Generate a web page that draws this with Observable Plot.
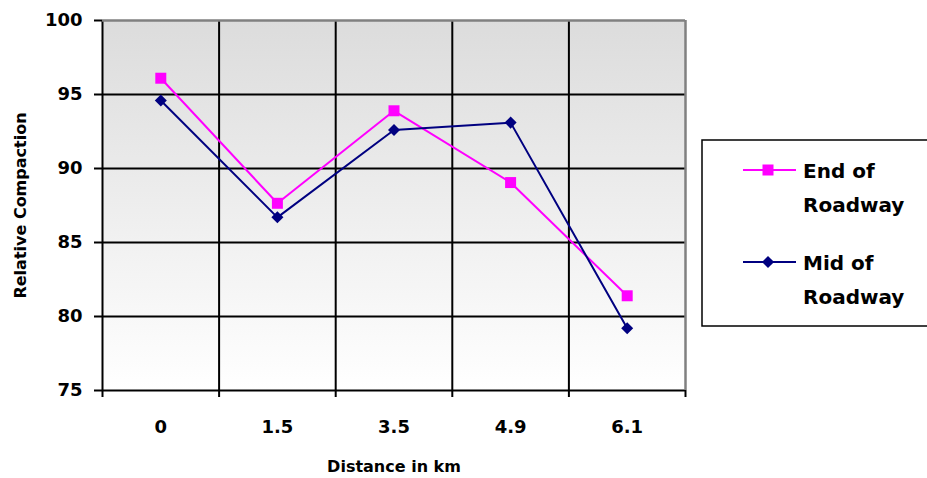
<!DOCTYPE html>
<html>
<head>
<meta charset="utf-8">
<script src="https://cdn.jsdelivr.net/npm/d3@7"></script>
<script src="https://cdn.jsdelivr.net/npm/@observablehq/plot@0.6"></script>
<style>
  html, body { margin: 0; padding: 0; background: white; overflow: hidden; }
  #wrap { position: relative; width: 927px; height: 478px; }
  #legend { position: absolute; left: 0; top: 0; }
</style>
</head>
<body>
<div id="wrap"></div>
<script>
const categories = ["0", "1.5", "3.5", "4.9", "6.1"];
const endOfRoadway = [96.1, 87.65, 93.9, 89.05, 81.4];
const midOfRoadway = [94.6, 86.7, 92.6, 93.1, 79.2];
const yTicks = [75, 80, 85, 90, 95, 100];
const seriesNames = ["End of Roadway", "Mid of Roadway"];
const seriesColors = ["#FF00FF", "#000080"];
const xTitle = "Distance in km";
const yTitle = "Relative Compaction";

const FONT = "DejaVu Sans";
const idx = categories.map((c, i) => i);
const boundaries = categories.map((c, i) => i - 0.5).concat([categories.length - 0.5]);
const endData = categories.map((c, i) => ({i, value: endOfRoadway[i], series: seriesNames[0]}));
const midData = categories.map((c, i) => ({i, value: midOfRoadway[i], series: seriesNames[1]}));

const chart = Plot.plot({
  width: 927,
  height: 478,
  marginLeft: 102,
  marginRight: 242,
  marginTop: 20,
  marginBottom: 88,
  style: {fontFamily: FONT, fontSize: "18px", fontWeight: "bold", color: "black", background: "transparent"},
  x: {domain: [-0.5, categories.length - 0.5], axis: null},
  y: {domain: [75, 100], axis: null},
  marks: [
    Plot.frame({fill: "url(#plotBg)", stroke: "none"}),
    Plot.ruleY(yTicks.filter(t => t < 100), {stroke: "black", strokeWidth: 2}),
    Plot.ruleX(boundaries.slice(0, -1), {stroke: "black", strokeWidth: 2}),
    Plot.ruleY([100], {stroke: "#808080", strokeWidth: 2.5}),
    Plot.ruleX([boundaries[boundaries.length - 1]], {stroke: "#808080", strokeWidth: 2.5}),
    Plot.axisY(yTicks, {tickSize: 8, tickPadding: 12, strokeWidth: 2, stroke: "black", fontSize: 18, label: null, tickFormat: d => String(d)}),
    Plot.axisX(boundaries, {tickSize: 7, strokeWidth: 2, stroke: "black", tickFormat: () => "", label: null}),
    Plot.axisX(idx, {tickSize: 0, tickPadding: 30, fontSize: 18, tickFormat: i => categories[i], label: null}),
    Plot.line(endData, {x: "i", y: "value", stroke: seriesColors[0], strokeWidth: 2}),
    Plot.line(midData, {x: "i", y: "value", stroke: seriesColors[1], strokeWidth: 2}),
    Plot.dot(endData, {x: "i", y: "value", symbol: "square", r: 6.2, fill: seriesColors[0], stroke: "none"}),
    Plot.dot(midData, {x: "i", y: "value", symbol: "square", r: 4.8, rotate: 45, fill: seriesColors[1], stroke: "none"}),
    Plot.text([yTitle], {frameAnchor: "left", dx: -82, rotate: -90, textAnchor: "middle", lineAnchor: "middle", fontSize: 16, fontWeight: "bold", fill: "black"}),
    Plot.text([xTitle], {frameAnchor: "bottom", dy: 76, textAnchor: "middle", lineAnchor: "middle", fontSize: 16, fontWeight: "bold", fill: "black"})
  ]
});

// gradient background for plot area
const NS = "http://www.w3.org/2000/svg";
const defs = document.createElementNS(NS, "defs");
const grad = document.createElementNS(NS, "linearGradient");
grad.setAttribute("id", "plotBg");
grad.setAttribute("x1", "0"); grad.setAttribute("y1", "0");
grad.setAttribute("x2", "0"); grad.setAttribute("y2", "1");
[["0%", "#dcdcdc"], ["100%", "#ffffff"]].forEach(([o, c]) => {
  const s = document.createElementNS(NS, "stop");
  s.setAttribute("offset", o); s.setAttribute("stop-color", c);
  grad.appendChild(s);
});
defs.appendChild(grad);
chart.insertBefore(defs, chart.firstChild);

const wrap = document.getElementById("wrap");
wrap.appendChild(chart);

// legend
const leg = document.createElementNS(NS, "svg");
leg.setAttribute("id", "legend");
leg.setAttribute("width", "927");
leg.setAttribute("height", "478");
leg.style.fontFamily = FONT;
leg.style.fontWeight = "bold";
const box = document.createElementNS(NS, "rect");
box.setAttribute("x", "702"); box.setAttribute("y", "140");
box.setAttribute("width", "260"); box.setAttribute("height", "186");
box.setAttribute("fill", "white"); box.setAttribute("stroke", "black"); box.setAttribute("stroke-width", "1.5");
leg.appendChild(box);
const entries = [
  {y: 170, lines: ["End of", "Roadway"], color: seriesColors[0], shape: "square"},
  {y: 262, lines: ["Mid of", "Roadway"], color: seriesColors[1], shape: "diamond"}
];
entries.forEach(e => {
  const ln = document.createElementNS(NS, "line");
  ln.setAttribute("x1", "743"); ln.setAttribute("x2", "796");
  ln.setAttribute("y1", e.y); ln.setAttribute("y2", e.y);
  ln.setAttribute("stroke", e.color); ln.setAttribute("stroke-width", "2");
  leg.appendChild(ln);
  const m = document.createElementNS(NS, "rect");
  if (e.shape === "square") {
    m.setAttribute("x", 768 - 5.5); m.setAttribute("y", e.y - 5.5);
    m.setAttribute("width", 11); m.setAttribute("height", 11);
  } else {
    m.setAttribute("x", 768 - 4.3); m.setAttribute("y", e.y - 4.3);
    m.setAttribute("width", 8.6); m.setAttribute("height", 8.6);
    m.setAttribute("transform", `rotate(45 768 ${e.y})`);
  }
  m.setAttribute("fill", e.color);
  leg.appendChild(m);
  e.lines.forEach((t, k) => {
    const tx = document.createElementNS(NS, "text");
    tx.setAttribute("x", "803");
    tx.setAttribute("y", e.y + 8 + k * 33.5);
    tx.setAttribute("font-size", "20");
    tx.setAttribute("fill", "black");
    tx.textContent = t;
    leg.appendChild(tx);
  });
});
wrap.appendChild(leg);
</script>
</body>
</html>
